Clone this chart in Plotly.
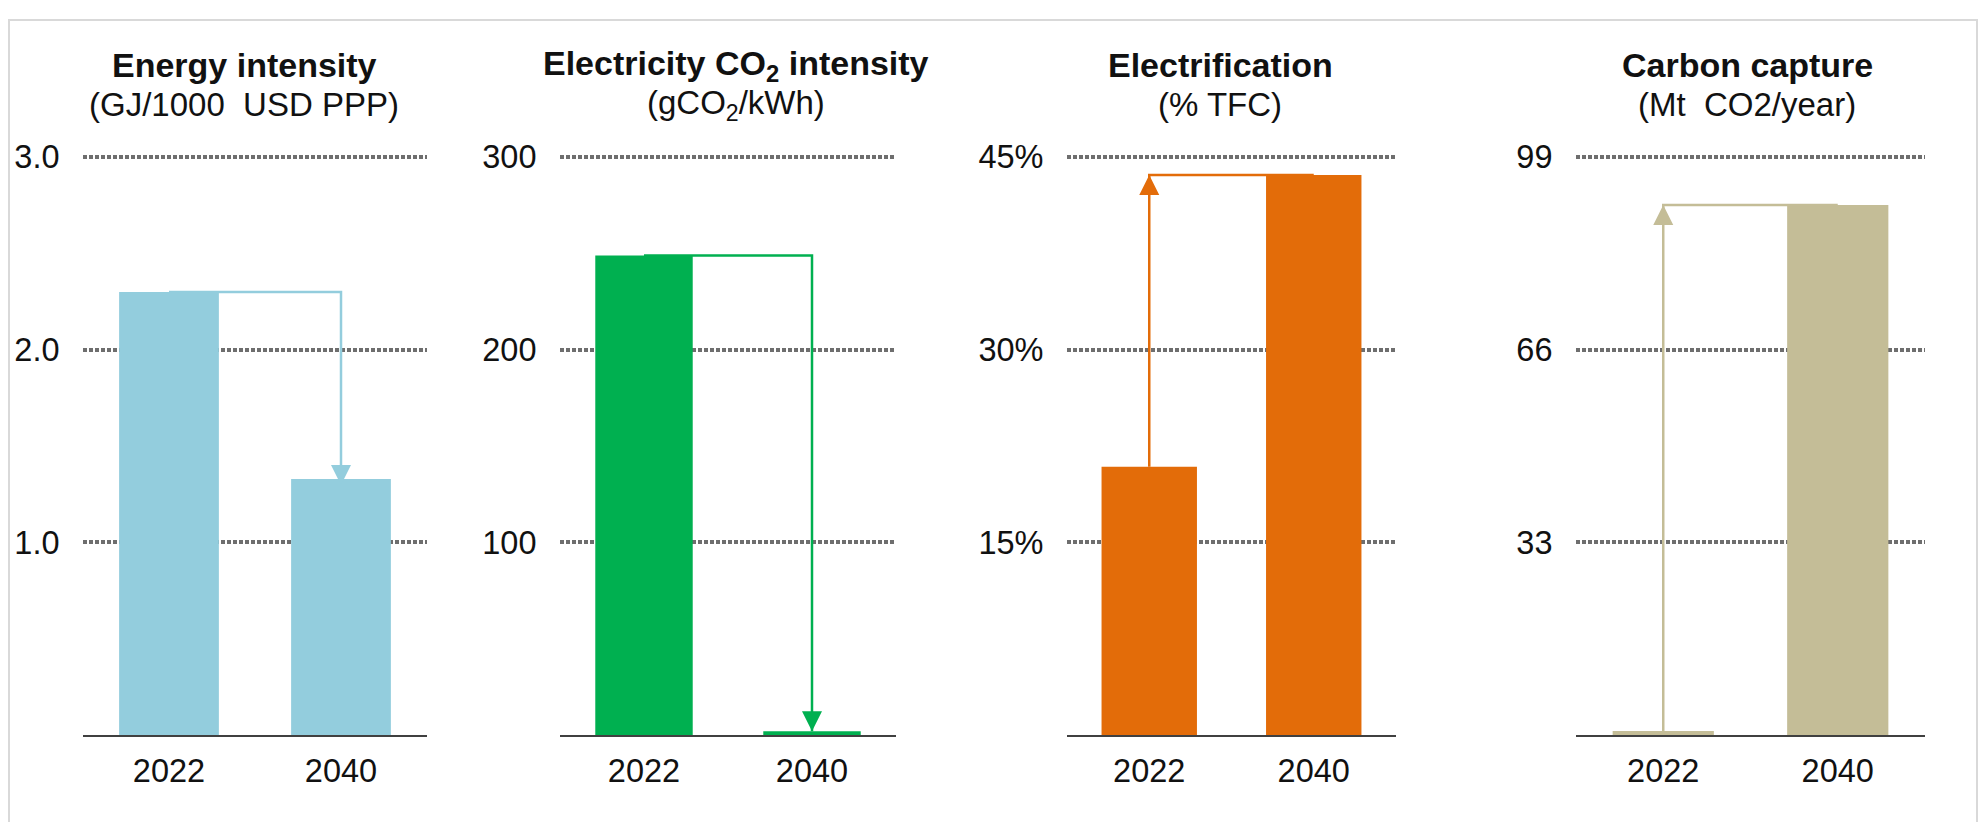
import plotly.graph_objects as go

# ---------------- data ----------------
categories = ["2022", "2040"]
energy_intensity = [2.30, 1.33]        # GJ/1000 USD PPP
electricity_co2 = [249, 2]             # gCO2/kWh
electrification = [20.9, 43.6]         # % TFC
carbon_capture = [0.7, 90.8]           # Mt CO2/year

titles = ["Energy intensity", "Electricity CO<sub>2</sub> intensity", "Electrification", "Carbon capture"]
subtitles = ["(GJ/1000\u00a0 USD PPP)", "(gCO<sub>2</sub>/kWh)", "(% TFC)", "(Mt\u00a0 CO2/year)"]
tick_values = [[1, 2, 3], [100, 200, 300], [15, 30, 45], [33, 66, 99]]
tick_labels = [["1.0", "2.0", "3.0"], ["100", "200", "300"], ["15%", "30%", "45%"], ["33", "66", "99"]]
colors = ["#93CDDD", "#00B050", "#E36C09", "#C4BD97"]
series = [energy_intensity, electricity_co2, electrification, carbon_capture]
directions = ["down", "down", "up", "up"]
arrow_standoff = [6, 0, 0, 0]

# ---------------- layout geometry (pixels, page coords) ----------------
OFF_X, OFF_Y = 8, 16         # offset of the figure inside the page
W, H = 1971, 814
x_px = [(83, 427), (560, 896), (1067, 1396), (1576, 1925)]
title_cx = [244, 736, 1220, 1747]
y_bottom, y_top_tick, y_top = 742, 156, 149
FONT = "Liberation Sans, Arial, sans-serif"
TXT = "#111111"

fig = go.Figure()

def px_x(p):
    return (p - OFF_X) / W

def px_y(p):
    return 1 - (p - OFF_Y) / H

for i in range(4):
    n = i + 1
    xa = "x" if n == 1 else f"x{n}"
    ya = "y" if n == 1 else f"y{n}"
    vals = series[i]
    top_val = tick_values[i][-1]
    ymax = top_val * (y_bottom - y_top) / (y_bottom - y_top_tick)
    c = colors[i]

    fig.add_trace(go.Bar(
        x=categories, y=vals, xaxis=xa, yaxis=ya,
        marker=dict(color=c, line=dict(width=0)),
        width=0.58, hoverinfo="skip", showlegend=False,
    ))

    if directions[i] == "down":
        path_x = [categories[0], categories[1], categories[1]]
        path_y = [vals[0], vals[0], vals[1]]
        tip_x, tip_y, sym = categories[1], vals[1], "arrow-down"
    else:
        path_x = [categories[0], categories[0], categories[1]]
        path_y = [vals[0], vals[1], vals[1]]
        tip_x, tip_y, sym = categories[0], vals[1], "arrow-up"

    fig.add_trace(go.Scatter(
        x=path_x, y=path_y, xaxis=xa, yaxis=ya, mode="lines",
        line=dict(color=c, width=2.5), hoverinfo="skip", showlegend=False,
    ))
    fig.add_trace(go.Scatter(
        x=[tip_x], y=[tip_y], xaxis=xa, yaxis=ya, mode="markers",
        marker=dict(symbol=sym, size=20, color=c, line=dict(width=0),
                    standoff=arrow_standoff[i]),
        hoverinfo="skip", showlegend=False,
    ))

    xkey = "xaxis" if n == 1 else f"xaxis{n}"
    ykey = "yaxis" if n == 1 else f"yaxis{n}"
    fig.layout[xkey] = dict(
        domain=[px_x(x_px[i][0]), px_x(x_px[i][1])],
        anchor=ya, type="category", range=[-0.5, 1.5],
        showline=True, linecolor="#404040", linewidth=2,
        showgrid=False, zeroline=False,
        ticks="outside", ticklen=6, tickcolor="rgba(0,0,0,0)",
        tickfont=dict(family=FONT, size=32.5, color=TXT),
        fixedrange=True,
    )
    fig.layout[ykey] = dict(
        domain=[px_y(y_bottom), px_y(y_top)],
        anchor=xa, range=[0, ymax],
        tickvals=tick_values[i], ticktext=tick_labels[i],
        showline=False, zeroline=False,
        showgrid=True, gridcolor="#6E6E6E", gridwidth=3.5, griddash="4px,2px",
        ticks="outside", ticklen=16, tickcolor="rgba(0,0,0,0)",
        tickfont=dict(family=FONT, size=32.5, color=TXT),
        fixedrange=True,
    )

    # titles
    fig.add_annotation(xref="paper", yref="paper", x=px_x(title_cx[i]), y=px_y(63),
                       text=f"<b>{titles[i]}</b>", showarrow=False,
                       xanchor="center", yanchor="middle",
                       font=dict(family=FONT, size=34, color=TXT))
    fig.add_annotation(xref="paper", yref="paper", x=px_x(title_cx[i]), y=px_y(103),
                       text=subtitles[i], showarrow=False,
                       xanchor="center", yanchor="middle",
                       font=dict(family=FONT, size=33, color=TXT))

# outer light frame
fig.add_shape(type="rect", xref="paper", yref="paper",
              x0=px_x(9), x1=px_x(1977), y0=px_y(900), y1=px_y(17),
              line=dict(color="#D9D9D9", width=2), fillcolor="rgba(0,0,0,0)", layer="below")

fig.update_layout(
    width=W, height=H,
    margin=dict(l=0, r=0, t=0, b=0),
    paper_bgcolor="white", plot_bgcolor="white",
    showlegend=False,
    font=dict(family=FONT),
)

fig.write_html("out.html")
